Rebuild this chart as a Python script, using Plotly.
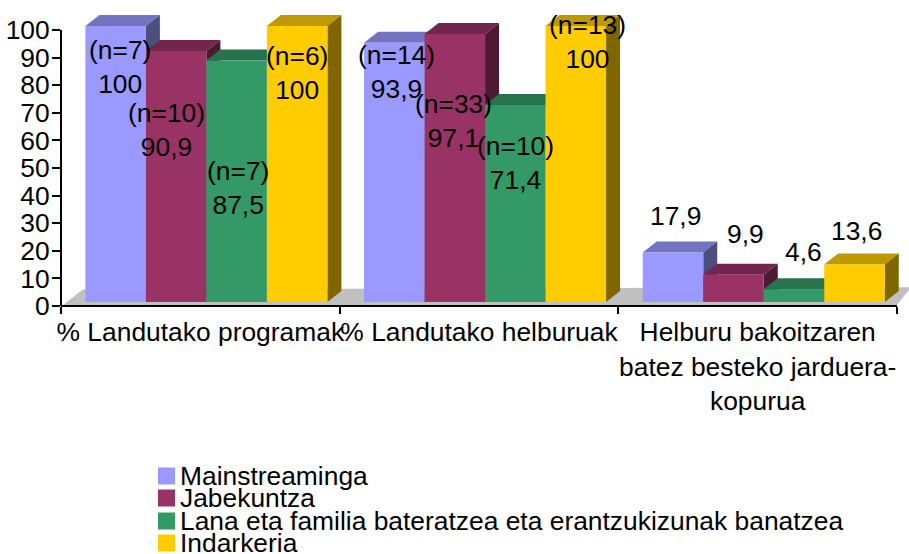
import plotly.graph_objects as go

# ---- data ----
categories = ["% Landutako programak", "% Landutako helburuak",
              "Helburu bakoitzaren<br>batez besteko jarduera-<br>kopurua"]
series_names = ["Mainstreaminga", "Jabekuntza",
                "Lana eta familia bateratzea eta erantzukizunak banatzea", "Indarkeria"]
mainstreaminga = [100, 93.9, 17.9]
jabekuntza = [90.9, 97.1, 9.9]
lana = [87.5, 71.4, 4.6]
indarkeria = [100, 100, 13.6]
n_mainstreaminga = [7, 14, None]
n_jabekuntza = [10, 33, None]
n_lana = [7, 10, None]
n_indarkeria = [6, 13, None]
y_ticks = [0, 10, 20, 30, 40, 50, 60, 70, 80, 90, 100]

# ---- styling ----
front = ["#9999FF", "#993366", "#339966", "#FFCC00"]
top = ["#7373BF", "#73264D", "#26734D", "#BF9900"]
side = ["#4D4D80", "#4D1A33", "#1A4D33", "#806600"]
FONT = "Liberation Sans, Arial, sans-serif"
FS = 26.4

W, H = 909, 554
PL, PB_Y = 61, 306          # plot left edge / y pixel of value 0
GROUP = 278.67              # pixels per category
UNIT = 2.76                 # pixels per y unit
BAR = 60.5 / GROUP          # bar width, category units
START = 24.4 / GROUP        # gap from category boundary to first bar
BASE = 4 / UNIT             # the 3-D bars float above the axis
DX, DY = 14 / GROUP, 11 / UNIT  # depth vector

all_vals = [mainstreaminga, jabekuntza, lana, indarkeria]
all_n = [n_mainstreaminga, n_jabekuntza, n_lana, n_indarkeria]

# hand placed data labels, pixel centres, as in the reference
label_px = [
    [(120, 67), (396, 72), (675, 216)],
    [(166, 130), (453, 121), (745, 234)],
    [(238, 188), (515, 163), (803, 252)],
    [(297, 73), (587, 42), (856, 231)],
]

fig = go.Figure()
shapes = []
annotations = []

# floor
shapes.append(dict(
    type="path", layer="below", xref="x", yref="y", line_width=0, fillcolor="#C0C0C0",
    path=f"M {-0.5 + 2/GROUP},{0.4} L {-0.5 + 22/GROUP},{6} "
         f"L {2.5 + 14/GROUP},{6.8} L {2.5},{0.4} Z"))

for j, vals in enumerate(all_vals):
    off = -0.5 + START + j * BAR
    fig.add_trace(go.Bar(
        x=categories, y=vals, base=BASE, width=BAR, offset=off,
        name=series_names[j], marker=dict(color=front[j], line_width=0),
        showlegend=False, cliponaxis=False))
    for i, v in enumerate(vals):
        x0 = i + off
        x1 = x0 + BAR
        y1 = BASE + v
        y0 = BASE
        # top face
        shapes.append(dict(
            type="path", layer="below", xref="x", yref="y", line_width=0, fillcolor=top[j],
            path=f"M {x0},{y1} L {x0+DX},{y1+DY} L {x1+DX},{y1+DY} L {x1},{y1} Z"))
        # side face
        shapes.append(dict(
            type="path", layer="below", xref="x", yref="y", line_width=0, fillcolor=side[j],
            path=f"M {x1},{y1} L {x1+DX},{y1+DY} L {x1+DX},{y0+DY} L {x1},{y0} Z"))
        # label
        txt = str(v).replace(".", ",")
        if all_n[j][i] is not None:
            txt = f"(n={all_n[j][i]})<br>{txt}"
        px, py = label_px[j][i]
        annotations.append(dict(
            text=txt, x=(px - PL) / (W - PL), y=(PB_Y - py) / PB_Y,
            xref="paper", yref="paper", xanchor="center", yanchor="middle",
            showarrow=False, font=dict(family=FONT, size=FS, color="black")))

# axis lines
shapes.append(dict(type="line", layer="above", xref="x", yref="paper",
                   x0=-0.5, x1=2.5, y0=0, y1=0, line=dict(color="black", width=2)))
shapes.append(dict(type="line", layer="above", xref="paper", yref="y",
                   x0=0, x1=0, y0=0, y1=100, line=dict(color="black", width=2)))

# legend (tight spacing of the original)
legend_y = [476, 498, 521, 543]
for j, name in enumerate(series_names):
    cy = legend_y[j]
    shapes.append(dict(
        type="rect", layer="above", xref="paper", yref="paper", line_width=0, fillcolor=front[j],
        x0=(158 - PL) / (W - PL), x1=(175 - PL) / (W - PL),
        y0=(PB_Y - cy - 8.5) / PB_Y, y1=(PB_Y - cy + 8.5) / PB_Y))
    annotations.append(dict(
        text=name, x=(178 - PL) / (W - PL), y=(PB_Y - cy) / PB_Y,
        xref="paper", yref="paper", xanchor="left", yanchor="middle",
        showarrow=False, font=dict(family=FONT, size=FS, color="black")))

fig.update_layout(
    width=W, height=H,
    margin=dict(l=PL, r=0, t=0, b=H - PB_Y, pad=0),
    paper_bgcolor="white", plot_bgcolor="white",
    barmode="overlay", showlegend=False,
    shapes=shapes, annotations=annotations,
    font=dict(family=FONT, size=FS, color="black"),
    xaxis=dict(type="category", categoryorder="array", categoryarray=categories,
               range=[-0.5, -0.5 + (W - PL) / GROUP], tickson="boundaries",
               ticks="outside", ticklen=7, tickwidth=2, tickcolor="black",
               ticklabelstandoff=8,
               tickangle=0, showline=False, showgrid=False, zeroline=False),
    yaxis=dict(range=[0, PB_Y / UNIT], tickmode="array", tickvals=y_ticks,
               ticks="outside", ticklen=8, tickwidth=2, tickcolor="black",
               ticklabelstandoff=-3,
               showline=False, showgrid=False, zeroline=False),
)

fig.write_html("out.html", post_script="document.body.style.margin='0';",
               config={"displayModeBar": False})
